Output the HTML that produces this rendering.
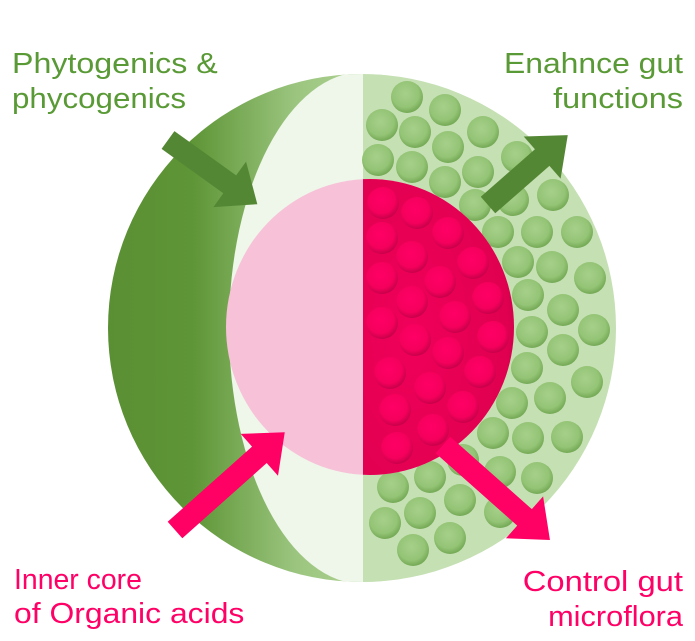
<!DOCTYPE html>
<html><head><meta charset="utf-8"><style>
html,body{margin:0;padding:0;background:#fff;}
svg{display:block;}
text{font-family:"Liberation Sans",sans-serif;font-size:29px;}
</style></head><body>
<svg width="695" height="641" viewBox="0 0 695 641" xmlns="http://www.w3.org/2000/svg">
<defs>
<linearGradient id="lg" x1="0" x2="1" y1="0" y2="0">
<stop offset="0" stop-color="#5a8f33"/><stop offset="0.35" stop-color="#5e9536"/><stop offset="0.75" stop-color="#9cc680"/><stop offset="1" stop-color="#acd190"/>
</linearGradient>
<radialGradient id="gd" cx="0.45" cy="0.4" r="0.6">
<stop offset="0" stop-color="#a6d08a"/><stop offset="0.7" stop-color="#94c476"/><stop offset="1" stop-color="#74a955"/>
</radialGradient>
<radialGradient id="pd" cx="0.45" cy="0.4" r="0.6">
<stop offset="0" stop-color="#ff0066"/><stop offset="0.7" stop-color="#f5005c"/><stop offset="1" stop-color="#c8004a"/>
</radialGradient>
<radialGradient id="core" cx="0.3" cy="0.5" r="0.75">
<stop offset="0" stop-color="#f0005a"/><stop offset="0.8" stop-color="#e0004f"/><stop offset="1" stop-color="#b80042"/>
</radialGradient>
<clipPath id="outerC"><circle cx="362" cy="328" r="254"/></clipPath>
<clipPath id="innerR"><ellipse cx="370" cy="327" rx="144" ry="148"/></clipPath>
</defs>
<g clip-path="url(#outerC)">
<rect x="100" y="70" width="263" height="520" fill="url(#lg)"/>
<ellipse cx="363" cy="328" rx="134" ry="256" fill="#eff6ea"/>
<rect x="363" y="70" width="270" height="520" fill="#c5e0b3"/>
<g fill="url(#gd)">
<circle cx="407" cy="97" r="16"/><circle cx="445" cy="110" r="16"/><circle cx="382" cy="125" r="16"/><circle cx="415" cy="132" r="16"/><circle cx="483" cy="132" r="16"/><circle cx="448" cy="147" r="16"/><circle cx="378" cy="160" r="16"/><circle cx="412" cy="167" r="16"/><circle cx="478" cy="172" r="16"/><circle cx="445" cy="182" r="16"/><circle cx="517" cy="157" r="16"/><circle cx="475" cy="205" r="16"/><circle cx="513" cy="200" r="16"/><circle cx="553" cy="195" r="16"/><circle cx="498" cy="232" r="16"/><circle cx="537" cy="232" r="16"/><circle cx="577" cy="232" r="16"/><circle cx="518" cy="262" r="16"/><circle cx="552" cy="267" r="16"/><circle cx="590" cy="278" r="16"/><circle cx="528" cy="295" r="16"/><circle cx="563" cy="310" r="16"/><circle cx="594" cy="330" r="16"/><circle cx="532" cy="332" r="16"/><circle cx="563" cy="350" r="16"/><circle cx="527" cy="368" r="16"/><circle cx="587" cy="382" r="16"/><circle cx="512" cy="403" r="16"/><circle cx="550" cy="398" r="16"/><circle cx="493" cy="433" r="16"/><circle cx="528" cy="438" r="16"/><circle cx="567" cy="437" r="16"/><circle cx="537" cy="478" r="16"/><circle cx="500" cy="472" r="16"/><circle cx="463" cy="460" r="16"/><circle cx="430" cy="477" r="16"/><circle cx="393" cy="487" r="16"/><circle cx="460" cy="500" r="16"/><circle cx="420" cy="513" r="16"/><circle cx="385" cy="523" r="16"/><circle cx="450" cy="538" r="16"/><circle cx="413" cy="550" r="16"/><circle cx="500" cy="512" r="16"/>
</g>
</g>
<ellipse cx="370" cy="327" rx="144" ry="148" fill="#f7c1d8"/>
<g clip-path="url(#innerR)">
<rect x="363" y="170" width="160" height="320" fill="url(#core)"/>
<g fill="url(#pd)">
<circle cx="383" cy="203" r="16"/><circle cx="417" cy="213" r="16"/><circle cx="448" cy="233" r="16"/><circle cx="382" cy="238" r="16"/><circle cx="412" cy="257" r="16"/><circle cx="473" cy="263" r="16"/><circle cx="382" cy="278" r="16"/><circle cx="440" cy="282" r="16"/><circle cx="488" cy="298" r="16"/><circle cx="412" cy="302" r="16"/><circle cx="382" cy="323" r="16"/><circle cx="455" cy="317" r="16"/><circle cx="493" cy="337" r="16"/><circle cx="415" cy="340" r="16"/><circle cx="448" cy="353" r="16"/><circle cx="390" cy="373" r="16"/><circle cx="480" cy="372" r="16"/><circle cx="430" cy="388" r="16"/><circle cx="395" cy="410" r="16"/><circle cx="463" cy="407" r="16"/><circle cx="433" cy="430" r="16"/><circle cx="397" cy="448" r="16"/>
</g>
</g>
<g fill="#548734">
<polygon transform="translate(168,140) rotate(35.7)" points="0,-11 76,-11 76,-28 110,0 76,28 76,11 0,11"/>
<polygon transform="translate(488,205) rotate(-41.2)" points="0,-11 72,-11 72,-28 106,0 72,28 72,11 0,11"/>
</g>
<g fill="#ff0064">
<polygon transform="translate(175,530) rotate(-41.7)" points="0,-11 113,-11 113,-28 147,0 113,28 113,11 0,11"/>
<polygon transform="translate(443,445) rotate(41.6)" points="0,-11 109,-11 109,-28 143,0 109,28 109,11 0,11"/>
</g>
<g fill="#5a9a36">
<text transform="translate(12,73) scale(1.11,1)">Phytogenics &amp;</text>
<text transform="translate(12,108) scale(1.08,1)">phycogenics</text>
<text transform="translate(683,73) scale(1.10,1)" text-anchor="end">Enahnce gut</text>
<text transform="translate(683,108) scale(1.12,1)" text-anchor="end">functions</text>
</g>
<g fill="#ff0066">
<text transform="translate(14,589) scale(0.98,1)">Inner core</text>
<text transform="translate(14,623) scale(1.10,1)">of Organic acids</text>
<text transform="translate(683,591) scale(1.13,1)" text-anchor="end">Control gut</text>
<text transform="translate(683,626) scale(1.06,1)" text-anchor="end">microflora</text>
</g>
</svg>
</body></html>
